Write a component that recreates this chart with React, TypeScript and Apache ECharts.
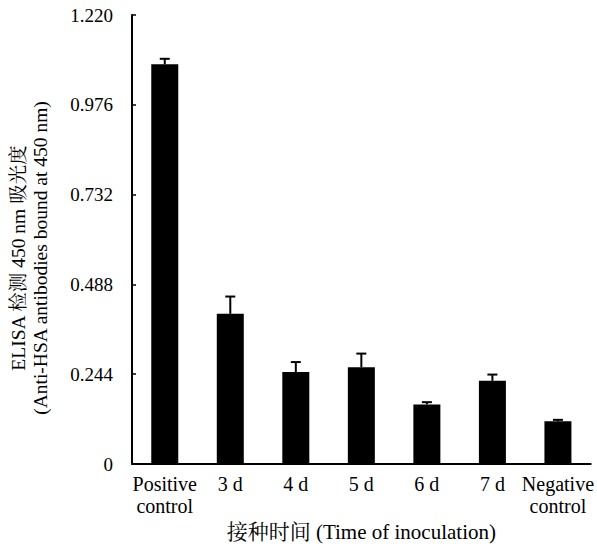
import React, { useEffect, useRef } from "react";
import * as echarts from "echarts";

const categories = ["Positive\ncontrol", "3 d", "4 d", "5 d", "6 d", "7 d", "Negative\ncontrol"];
const means = [1.086, 0.408, 0.25, 0.263, 0.162, 0.226, 0.116];
const errorTops = [1.101, 0.455, 0.277, 0.3, 0.168, 0.243, 0.12];
const yTicks = [0, 0.244, 0.488, 0.732, 0.976, 1.22];
const yTitleLines = ["ELISA 检测 450 nm 吸光度", "(Anti-HSA antibodies bound at 450 nm)"];

const serif = "'Liberation Serif', 'Times New Roman', 'Noto Serif CJK SC', 'Noto Sans CJK SC', serif";

export default function App() {
  const ref = useRef<HTMLDivElement>(null);
  useEffect(() => {
    if (!ref.current) return;
    const chart = echarts.init(ref.current, undefined, { renderer: "svg" });
    chart.setOption({
      animation: false,
      grid: { left: 132, right: 6, top: 15, bottom: 85 },
      graphic: yTitleLines.map((t, k) => ({
        type: "text",
        x: 18 + k * 22,
        y: 258,
        rotation: Math.PI / 2,
        style: {
          text: t,
          fill: "#000",
          fontFamily: serif,
          fontSize: 19.5,
          align: "center",
          verticalAlign: "middle",
        },
      })),
      xAxis: {
        type: "category",
        data: categories,
        axisLine: { lineStyle: { color: "#000", width: 2 } },
        axisTick: { show: false },
        axisLabel: { color: "#000", fontFamily: serif, fontSize: 20, lineHeight: 22, margin: 9, interval: 0 },
        name: "接种时间 (Time of inoculation)",
        nameLocation: "middle",
        nameGap: 56,
        nameTextStyle: { color: "#000", fontFamily: serif, fontSize: 21 },
      },
      yAxis: {
        type: "value",
        min: yTicks[0],
        max: yTicks[yTicks.length - 1],
        interval: yTicks[1],
        axisLine: { show: true, lineStyle: { color: "#000", width: 2 } },
        axisTick: { show: true, inside: true, length: 4, lineStyle: { color: "#000", width: 1.5 } },
        splitLine: { show: false },
        axisLabel: {
          color: "#000",
          fontFamily: serif,
          fontSize: 19,
          margin: 19,
          formatter: (v: number) => (v === 0 ? "0" : v.toFixed(3)),
        },
      },
      series: [
        {
          type: "bar",
          data: means,
          barWidth: 27,
          itemStyle: { color: "#000" },
        },
        {
          type: "custom",
          data: means.map((m, i) => [i, m, errorTops[i]]),
          renderItem: (params: any, api: any) => {
            const i = api.value(0);
            const base = api.coord([i, api.value(1)]);
            const top = api.coord([i, api.value(2)]);
            const hw = 5;
            return {
              type: "group",
              children: [
                { type: "line", shape: { x1: base[0], y1: base[1], x2: top[0], y2: top[1] }, style: { stroke: "#000", lineWidth: 2 } },
                { type: "line", shape: { x1: top[0] - hw, y1: top[1], x2: top[0] + hw, y2: top[1] }, style: { stroke: "#000", lineWidth: 2 } },
              ],
            };
          },
          z: 3,
        },
      ],
    });
    return () => chart.dispose();
  }, []);
  return <div ref={ref} style={{ width: 597, height: 549, position: "absolute", left: 0, top: 0 }} />;
}
